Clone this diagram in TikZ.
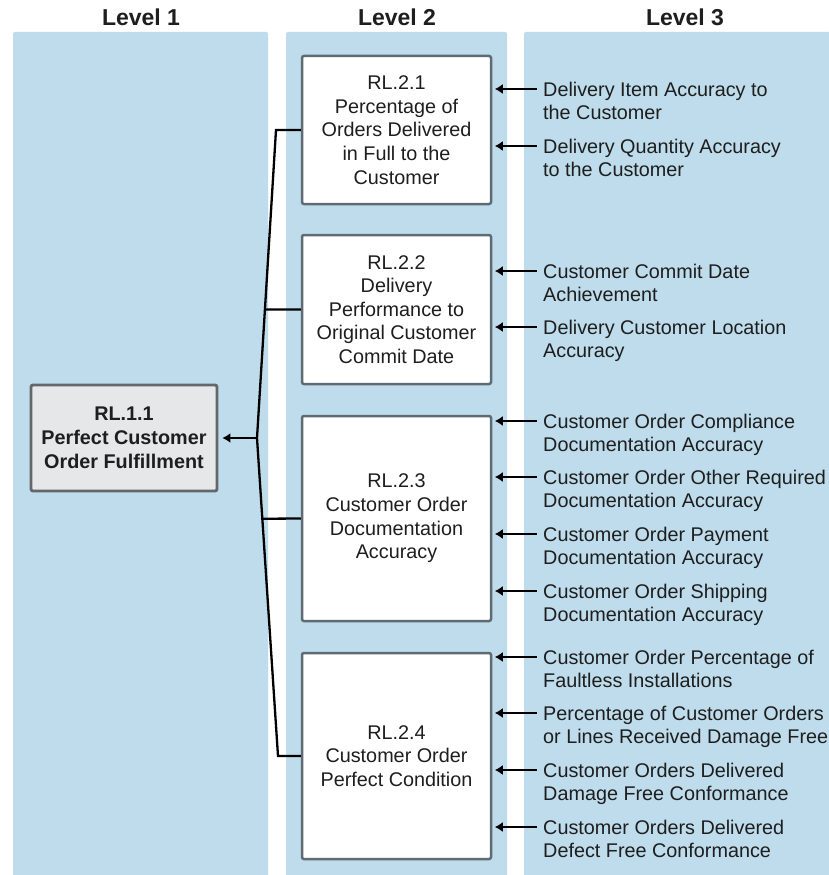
\documentclass[tikz,border=0pt]{standalone}
\usepackage{fontspec}
\setmainfont{Liberation Sans}
\usetikzlibrary{arrows.meta,calc}
\definecolor{colbg}{HTML}{BEDCEB}
\definecolor{boxline}{HTML}{5F6A72}
\definecolor{onebox}{HTML}{646669}
\definecolor{grayfill}{HTML}{E6E7E8}
\definecolor{ink}{HTML}{1E1E1E}
\newcommand\lvlthree[4]{%
  \node[lthree, anchor=north west] (#1) at (543,#3-7.3) {#4};
  \coordinate (#1s) at ([shift={(-6,7.3)}]#1.north west);
  \draw[arr, shorten >=2.5pt] (#1s) -- (#1s -| #2.east);
}
\begin{document}
\begin{tikzpicture}[x=1pt,y=-1pt,
  colfill/.style={fill=colbg, rounded corners=2pt},
  hdr/.style={font=\fontsize{23}{27}\selectfont\bfseries, text=ink},
  lonebox/.style={draw=onebox, line width=2.8pt, fill=grayfill, rounded corners=2pt,
    minimum width=186, minimum height=106, align=center, inner sep=0pt,
    font=\fontsize{19.8}{23.8}\selectfont\bfseries, text=ink},
  ltwobox/.style={draw=boxline, line width=2.5pt, fill=white, rounded corners=2pt,
    minimum width=189, align=center, inner sep=0pt,
    font=\fontsize{19.8}{23.6}\selectfont, text=ink},
  lthree/.style={align=left, inner sep=0pt, font=\fontsize{19.8}{23.2}\selectfont, text=ink},
  conn/.style={line width=2.3pt, draw=black},
  arr/.style={line width=2.3pt, draw=black, -{Latex[length=8pt,width=10pt]}}]
\useasboundingbox (0,0) rectangle (828,875);
\fill[white] (0,0) rectangle (828,875);
% column backgrounds
\fill[colfill] (13,32) rectangle (268,885);
\fill[colfill] (286,32) rectangle (507,885);
\fill[colfill] (524,32) rectangle (845,885);
% headers
\node[hdr] (h1) at (141,17) {Level 1};
\node[hdr] (h2) at (397,17) {Level 2};
\node[hdr] (h3) at (685,17) {Level 3};
% level 1
\node[lonebox] (r11) at (124,438) {RL.1.1\\Perfect Customer\\Order Fulfillment};
% level 2
\node[ltwobox, minimum height=148] (b1) at (396.5,130) {RL.2.1\\Percentage of\\Orders Delivered\\in Full to the\\Customer};
\node[ltwobox, minimum height=149] (b2) at (396.5,309.5) {RL.2.2\\Delivery\\Performance to\\Original Customer\\Commit Date};
\node[ltwobox, minimum height=205] (b3) at (396.5,518.5) {RL.2.3\\Customer Order\\Documentation\\Accuracy};
\node[ltwobox, minimum height=206] (b4) at (396.5,756) {RL.2.4\\Customer Order\\Perfect Condition};
% trunk
\coordinate (k1) at (276,130);
\coordinate (km) at (257,438);
\coordinate (k4) at (278,756);
\coordinate (k2) at ($(k1)!0.5828!(km)$);
\coordinate (k3) at ($(km)!0.2539!(k4)$);
\draw[conn, line join=miter] (b1.west) -- (k1) -- (km) -- (k4) -- (b4.west);
\draw[conn] (k2) -- (b2.west);
\draw[conn] (k3) -- (b3.west);
\draw[arr, shorten >=4pt] (km) -- (r11.east);
% level 3
\lvlthree{t1}{b1}{89}{Delivery Item Accuracy to\\the Customer}
\lvlthree{t2}{b1}{146}{Delivery Quantity Accuracy\\to the Customer}
\lvlthree{t3}{b2}{271}{Customer Commit Date\\Achievement}
\lvlthree{t4}{b2}{327}{Delivery Customer Location\\Accuracy}
\lvlthree{t5}{b3}{421}{Customer Order Compliance\\Documentation Accuracy}
\lvlthree{t6}{b3}{477}{Customer Order Other Required\\Documentation Accuracy}
\lvlthree{t7}{b3}{534}{Customer Order Payment\\Documentation Accuracy}
\lvlthree{t8}{b3}{591}{Customer Order Shipping\\Documentation Accuracy}
\lvlthree{t9}{b4}{657}{Customer Order Percentage of\\Faultless Installations}
\lvlthree{t10}{b4}{713}{Percentage of Customer Orders\\or Lines Received Damage Free}
\lvlthree{t11}{b4}{770}{Customer Orders Delivered\\Damage Free Conformance}
\lvlthree{t12}{b4}{827}{Customer Orders Delivered\\Defect Free Conformance}
\end{tikzpicture}
\end{document}
